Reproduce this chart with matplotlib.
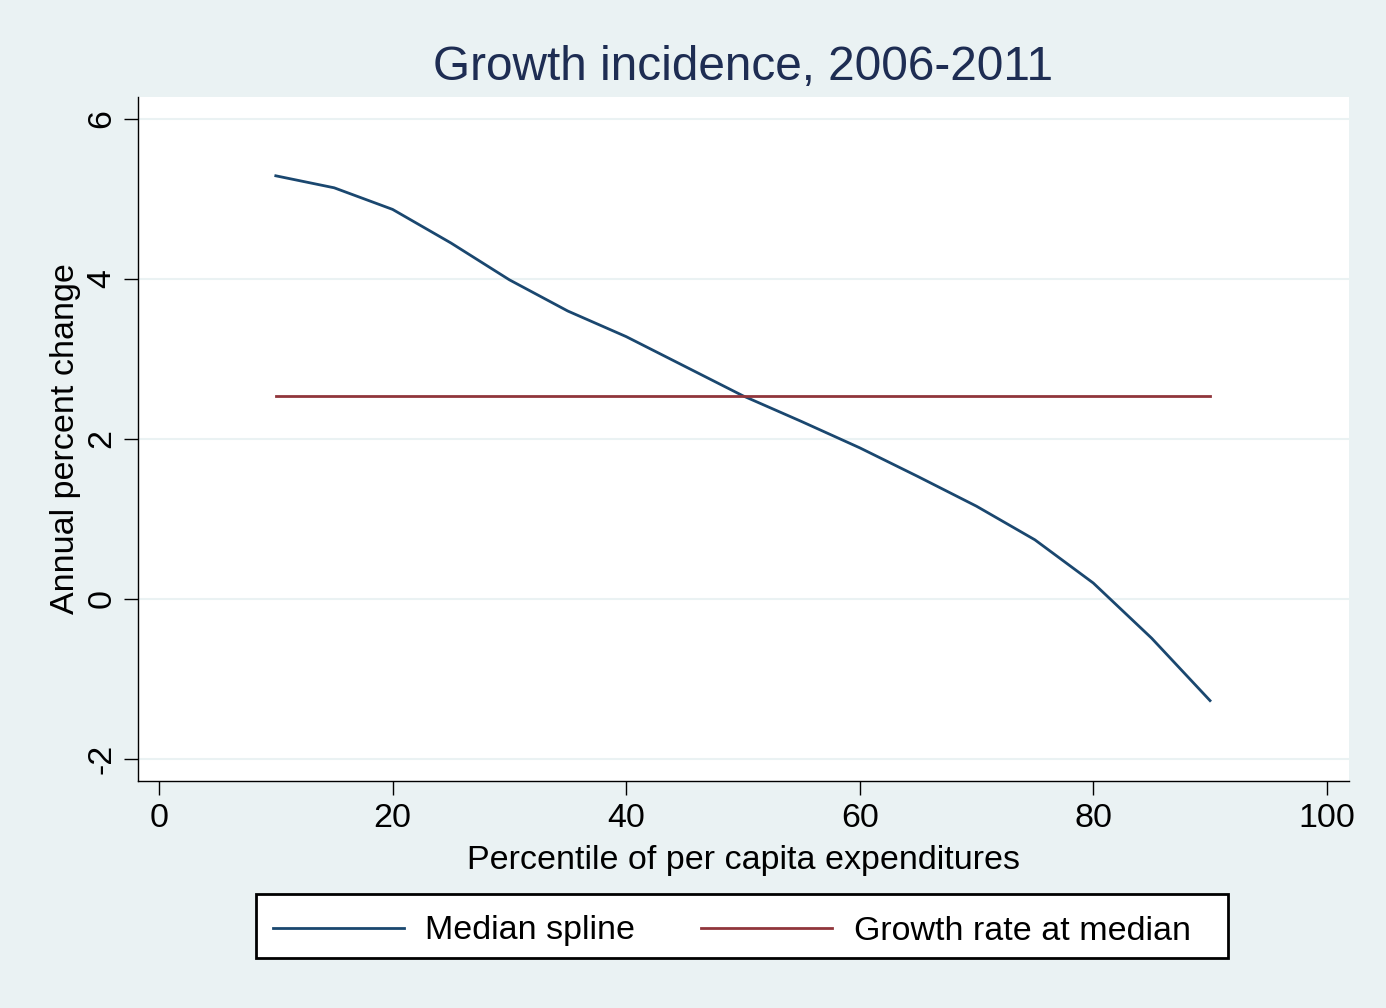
import numpy as np
import matplotlib
matplotlib.use("Agg")
import matplotlib.pyplot as plt
from matplotlib.patches import Rectangle

# Data
percentile = [10, 15, 20, 25, 30, 35, 40, 45, 50, 55, 60, 65, 70, 75, 80, 85, 90]
median_spline = [5.29, 5.14, 4.87, 4.45, 3.99, 3.60, 3.28, 2.91, 2.54, 2.22,
                 1.89, 1.53, 1.16, 0.74, 0.20, -0.49, -1.27]
growth_at_median = 2.54
x_ticks = [0, 20, 40, 60, 80, 100]
y_ticks = [-2, 0, 2, 4, 6]

BG = "#EAF2F3"
NAVY = "#1A476F"
MAROON = "#90353B"
TITLE_COLOR = "#1E2D53"
W, H = 1386, 1008

plt.rcParams["font.family"] = ["Liberation Sans", "DejaVu Sans"]
plt.rcParams["axes.unicode_minus"] = False

fig = plt.figure(figsize=(W / 100, H / 100), dpi=100, facecolor=BG)
ax = fig.add_axes([138 / W, 1 - 781 / H, (1349 - 138) / W, (781 - 97) / H])
ax.set_facecolor("white")

ax.plot(percentile, median_spline, color=NAVY, lw=2.0, label="Median spline")
ax.plot([percentile[0], percentile[-1]], [growth_at_median, growth_at_median],
        color=MAROON, lw=2.0, label="Growth rate at median")

ax.set_xlim(-1.8, 101.9)
ax.set_ylim(-2.275, 6.275)
ax.set_xticks(x_ticks)
ax.set_yticks(y_ticks)
ax.grid(axis="y", color=BG, lw=1.5)
ax.set_axisbelow(True)

for side in ["top", "right"]:
    ax.spines[side].set_visible(False)
for side in ["left", "bottom"]:
    ax.spines[side].set_linewidth(1.0)
    ax.spines[side].set_color("black")

ax.tick_params(axis="both", length=10, width=1.0, labelsize=24.5)
ax.tick_params(axis="x", pad=6)
ax.tick_params(axis="y", pad=5)
for lab in ax.get_yticklabels():
    lab.set_rotation(90)
    lab.set_va("center")

ax.set_xlabel("Percentile of per capita expenditures", fontsize=24.5, labelpad=8)
ax.set_ylabel("Annual percent change", fontsize=24.5, labelpad=4)
ax.set_title("Growth incidence, 2006-2011", fontsize=34.4, color=TITLE_COLOR, pad=12.5)

# legend box (Stata style, drawn as its own frame)
fig.patches.append(Rectangle((256 / W, 1 - 958 / H), (1228 - 256) / W, (958 - 894) / H,
                             transform=fig.transFigure, facecolor="white",
                             edgecolor="black", lw=2.0, zorder=0))
leg = fig.legend(loc="center left", bbox_to_anchor=(273 / W, 1 - 931 / H), ncol=2,
                 fontsize=24.5, frameon=False, handlelength=3.85, handletextpad=0.62,
                 columnspacing=1.95, borderpad=0, borderaxespad=0)

fig.savefig("out.png", dpi=100, facecolor=BG)
